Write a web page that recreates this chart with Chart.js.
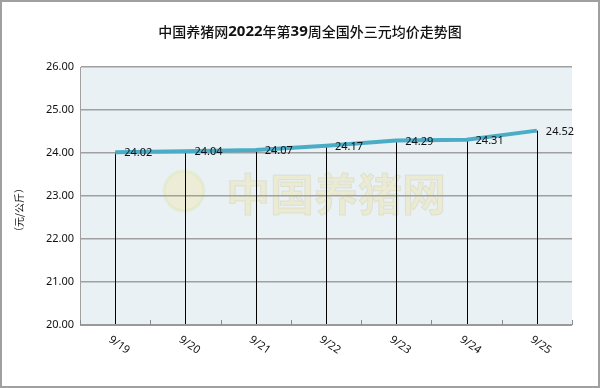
<!DOCTYPE html>
<html><head><meta charset="utf-8">
<script src="https://cdn.jsdelivr.net/npm/chart.js@4/dist/chart.umd.min.js"></script>
<style>html,body{margin:0;padding:0;background:#fff}#wrap{width:600px;height:388px}</style>
</head><body><div id="wrap"><canvas id="c" width="600" height="388"></canvas></div>
<script>
const categories = ["9/19","9/20","9/21","9/22","9/23","9/24","9/25"];
const prices = [24.02,24.04,24.07,24.17,24.29,24.31,24.52];
const yTicks = [20,21,22,23,24,25,26];
const titleText = "中国养猪网2022年第39周全国外三元均价走势图";
const yTitle = "（元/公斤）";
const FONT = "'Noto Sans','Noto Sans CJK SC',sans-serif";

const deco = {
  id:'deco',
  beforeDraw(chart){
    const {ctx, chartArea:a} = chart;
    ctx.save();
    ctx.fillStyle='#fff'; ctx.fillRect(0,0,600,388);
    ctx.strokeStyle='#a0a0a0'; ctx.lineWidth=2; ctx.strokeRect(1,1,598,386);
    ctx.fillStyle='#E9F1F5'; ctx.fillRect(a.left,a.top,a.right-a.left,a.bottom-a.top);
    const cx=(a.left+a.right)/2+8, cy=a.top+127;
    ctx.globalAlpha=0.35;
    ctx.beginPath(); ctx.arc(cx-150, cy-3, 20, 0, Math.PI*2);
    ctx.fillStyle='#f3e3a0'; ctx.fill(); ctx.strokeStyle='#d9e6b0'; ctx.lineWidth=3; ctx.stroke();
    ctx.font="bold 44px 'Noto Sans CJK SC'";
    ctx.textAlign='center'; ctx.textBaseline='middle';
    ctx.fillStyle='#f2dd95'; ctx.fillText("中国养猪网", cx+2, cy);
    ctx.lineWidth=1; ctx.strokeStyle='#c8c8b0'; ctx.strokeText("中国养猪网", cx+2, cy);
    ctx.globalAlpha=1;
    ctx.restore();
  },
  beforeDatasetsDraw(chart){
    const {ctx, chartArea:a, scales:{x,y}} = chart;
    const meta = chart.getDatasetMeta(0);
    ctx.save();
    ctx.strokeStyle='#000'; ctx.lineWidth=1;
    meta.data.forEach(p=>{
      const px=Math.round(p.x)+0.5;
      ctx.beginPath(); ctx.moveTo(px,p.y); ctx.lineTo(px,a.bottom); ctx.stroke();
    });
    ctx.strokeStyle='#9a9a9a'; ctx.lineWidth=2;
    ctx.beginPath(); ctx.moveTo(a.left,a.bottom); ctx.lineTo(a.right,a.bottom); ctx.stroke();
    ctx.lineWidth=1; ctx.strokeStyle='#8a8a8a';
    for(let i=0;i<=categories.length;i++){
      let bx;
      if(i===0) bx=a.left; else if(i===categories.length) bx=a.right;
      else bx=(x.getPixelForValue(i-1)+x.getPixelForValue(i))/2;
      bx=Math.round(bx)+0.5;
      ctx.beginPath(); ctx.moveTo(bx,a.bottom); ctx.lineTo(bx,a.bottom-5); ctx.stroke();
    }
    ctx.restore();
  },
  afterDatasetsDraw(chart){
    const {ctx, chartArea:a, scales:{x}} = chart;
    const meta = chart.getDatasetMeta(0);
    ctx.save();
    ctx.font="11px "+FONT; ctx.fillStyle='#111';
    ctx.textAlign='left'; ctx.textBaseline='middle';
    meta.data.forEach((p,i)=>{ ctx.fillText(prices[i].toFixed(2), p.x+9, p.y+1); });
    ctx.font="11px "+FONT; ctx.fillStyle='#111'; ctx.textAlign='center';
    categories.forEach((c,i)=>{
      const px=x.getPixelForValue(i);
      ctx.save(); ctx.translate(px+4, a.bottom+20); ctx.rotate(35*Math.PI/180);
      ctx.fillText(c,0,0); ctx.restore();
    });
    // title: digits bold, CJK regular
    const runs = titleText.match(/\d+|\D+/g);
    const fontFor = r => /\d/.test(r) ? "bold 15px 'Noto Sans','Noto Sans CJK SC'" : "500 14px 'Noto Sans CJK SC'";
    let total=0; runs.forEach(r=>{ ctx.font=fontFor(r); total+=ctx.measureText(r).width; });
    let tx=310-total/2; ctx.textAlign='left'; ctx.fillStyle='#111';
    runs.forEach(r=>{ ctx.font=fontFor(r); ctx.fillText(r, tx, 32); tx+=ctx.measureText(r).width; });
    ctx.save(); ctx.translate(19, 210); ctx.rotate(-Math.PI/2); ctx.textAlign='center';
    ctx.font="10px 'Noto Sans CJK SC'"; ctx.fillStyle='#111'; ctx.fillText(yTitle,0,0);
    ctx.restore();
    ctx.restore();
  }
};

new Chart(document.getElementById('c'), {
  type:'line',
  data:{ labels:categories, datasets:[{ data:prices, borderColor:'#4BACC6', borderWidth:4, pointRadius:0, tension:0, fill:false }]},
  options:{
    responsive:false, animation:false, devicePixelRatio:1,
    layout:{ padding:{ left:0, right:28, top:67, bottom:0 } },
    plugins:{ legend:{display:false}, tooltip:{enabled:false}, title:{display:false} },
    scales:{
      x:{ offset:true, grid:{display:false}, border:{display:false}, ticks:{display:false},
          afterFit(s){ s.height=63; } },
      y:{ min:20, max:26, afterFit(s){ s.width=80; },
          afterBuildTicks(s){ s.ticks = yTicks.map(v=>({value:v})); },
          grid:{ color:'#a0a0a0', lineWidth:1.5, drawTicks:false },
          border:{ display:true, color:'#a0a0a0', width:1 },
          ticks:{ padding:6, color:'#111', font:{ size:11, family:FONT }, callback:v=>Number(v).toFixed(2) } }
    }
  },
  plugins:[deco]
});
</script></body></html>
